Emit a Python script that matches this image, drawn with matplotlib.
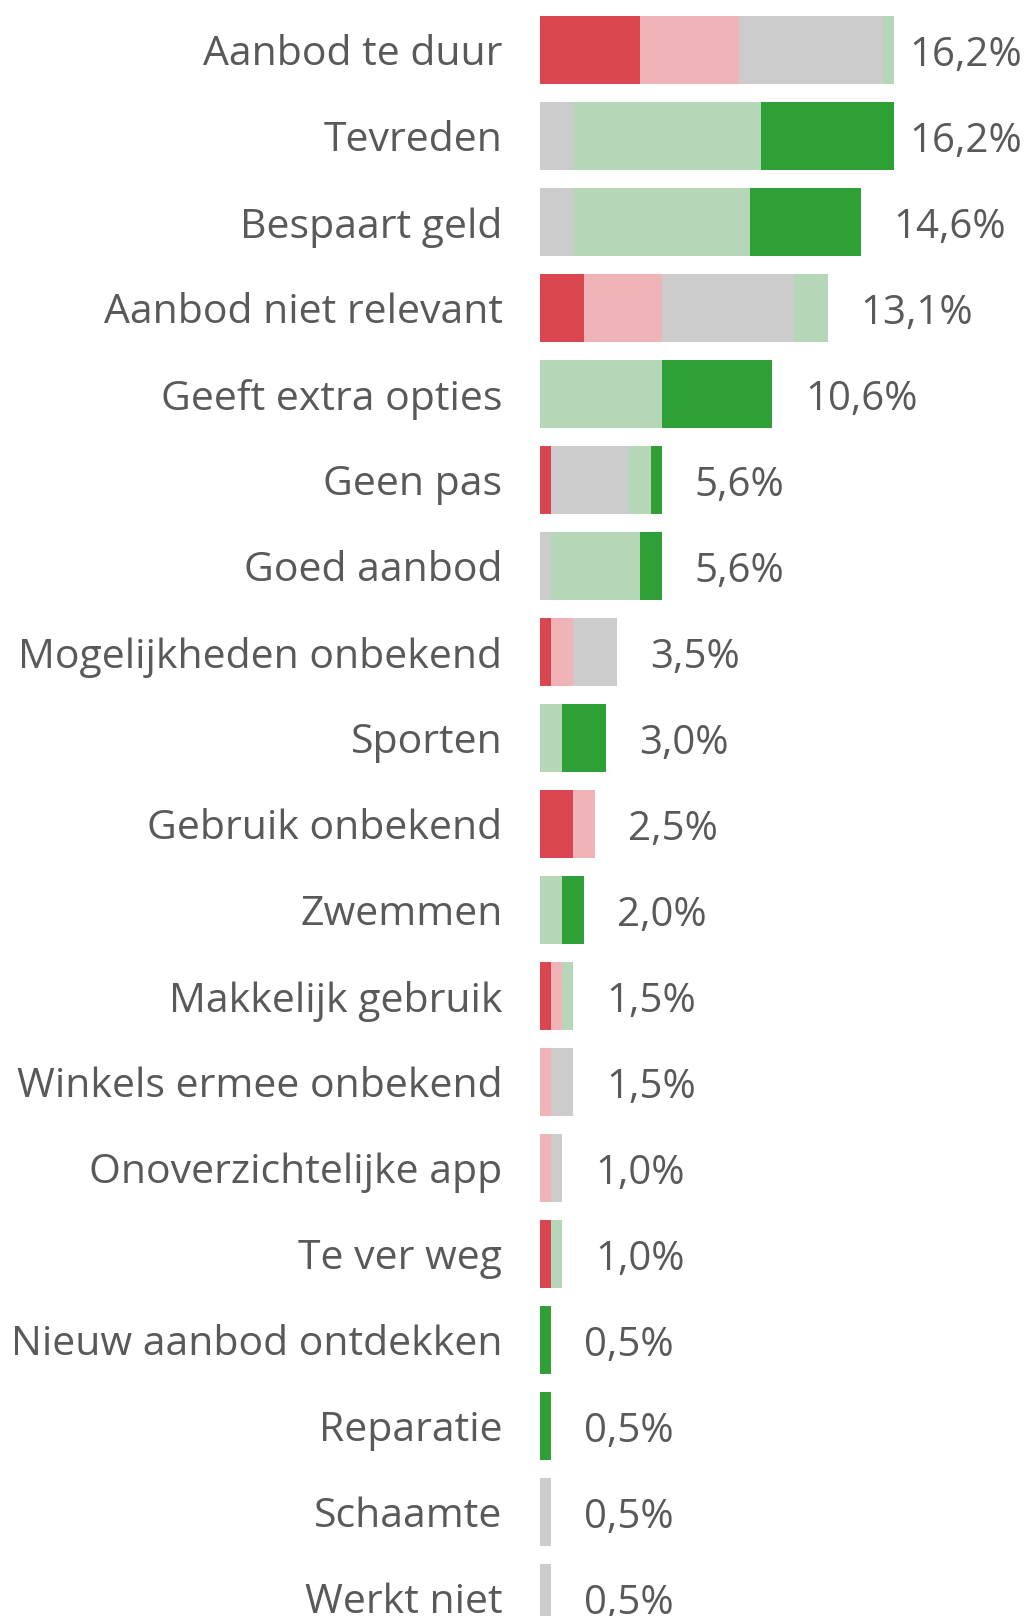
import numpy as np
from matplotlib import pyplot as plt

# antwoorden, aantal respondenten per categorie (N = 198)
N = 198
categories = [
    "Aanbod te duur", "Tevreden", "Bespaart geld", "Aanbod niet relevant",
    "Geeft extra opties", "Geen pas", "Goed aanbod", "Mogelijkheden onbekend",
    "Sporten", "Gebruik onbekend", "Zwemmen", "Makkelijk gebruik",
    "Winkels ermee onbekend", "Onoverzichtelijke app", "Te ver weg",
    "Nieuw aanbod ontdekken", "Reparatie", "Schaamte", "Werkt niet",
]
very_negative = [9, 0, 0, 4, 0, 1, 0, 1, 0, 3, 0, 1, 0, 0, 1, 0, 0, 0, 0]
negative      = [9, 0, 0, 7, 0, 0, 0, 2, 0, 2, 0, 1, 1, 1, 0, 0, 0, 0, 0]
neutral       = [13, 3, 3, 12, 0, 7, 1, 4, 0, 0, 0, 0, 2, 1, 0, 0, 0, 1, 1]
positive      = [1, 17, 16, 3, 11, 2, 8, 0, 2, 0, 2, 1, 0, 0, 1, 0, 0, 0, 0]
very_positive = [0, 12, 10, 0, 10, 1, 2, 0, 4, 0, 2, 0, 0, 0, 0, 1, 1, 0, 0]

series = [very_negative, negative, neutral, positive, very_positive]
colors = ["#d94650", "#f0b4b8", "#cccccc", "#b6d7b7", "#2fa035"]
text_color = "#595959"

plt.rcParams["font.family"] = ["Open Sans", "DejaVu Sans"]

W, H = 1030, 1616
fig = plt.figure(figsize=(W / 100, H / 100), dpi=100)
x0 = 540
ax = fig.add_axes([x0 / W, 0, 1 - x0 / W, 1])

px_per_pct = 21.9
row = 86
y_top = 50
xmax = (W - x0) / px_per_pct
ax.set_xlim(0, xmax)
ax.set_ylim((H - y_top) / row, -y_top / row)

y = np.arange(len(categories))
left = np.zeros(len(categories))
for vals, c in zip(series, colors):
    pct = np.array(vals) / N * 100
    ax.barh(y, pct, left=left, height=0.79, color=c, linewidth=0)
    left += pct

renderer = fig.canvas.get_renderer()
for yi, total in zip(y, left):
    t = ax.text(total + 33 / px_per_pct, yi + 0.07, ("%.1f%%" % total).replace(".", ","),
                va="center", ha="left", fontsize=29, color=text_color)
    bb = t.get_window_extent(renderer)
    if bb.x1 > W - 8:
        t.set_ha("right")
        t.set_x(xmax - 8 / px_per_pct)

ax.set_yticks(y)
ax.set_yticklabels(categories, fontsize=29.5, color=text_color)
ax.tick_params(axis="y", length=0, pad=27)
ax.set_xticks([])
for s in ax.spines.values():
    s.set_visible(False)

fig.savefig("out.png", dpi=100)
